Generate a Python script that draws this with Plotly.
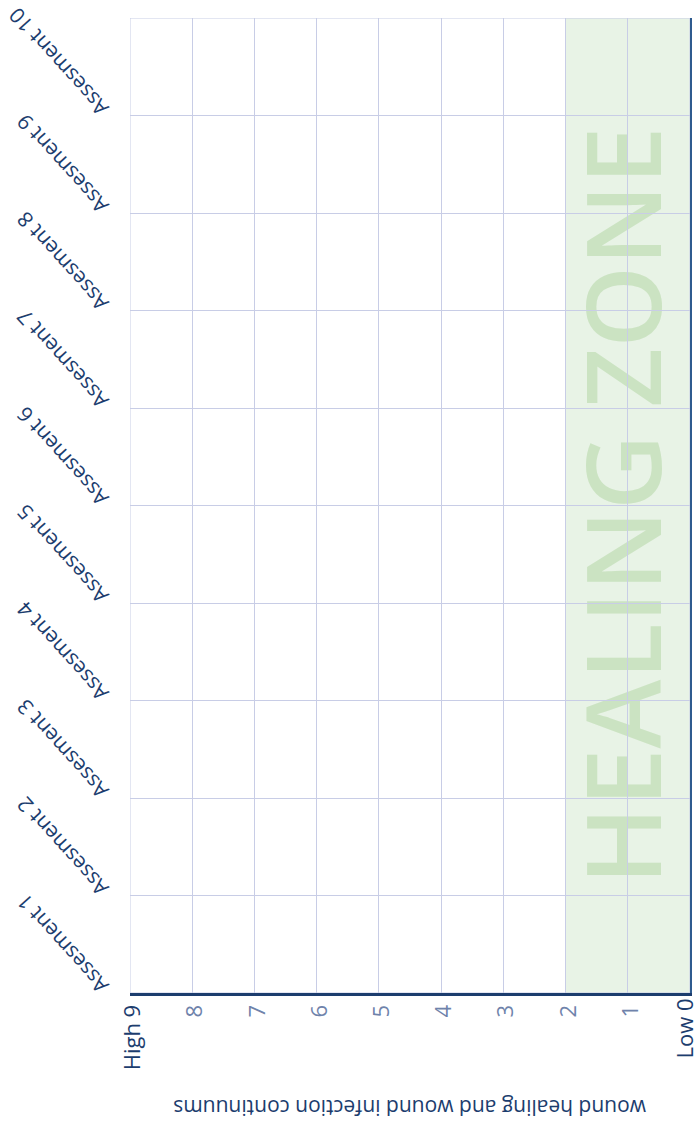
import plotly.graph_objects as go

# ---- data ----
values = [0, 1, 2, 3, 4, 5, 6, 7, 8, 9]
value_labels = ["Low 0", "1", "2", "3", "4", "5", "6", "7", "8", "High 9"]
assessment_positions = [0, 1, 2, 3, 4, 5, 6, 7, 8, 9, 10]
assessment_labels = ["Assesment 1", "Assesment 2", "Assesment 3", "Assesment 4",
                     "Assesment 5", "Assesment 6", "Assesment 7", "Assesment 8",
                     "Assesment 9", "Assesment 10", ""]
healing_zone = [0, 2]
value_range = [9, 0]
assessment_range = [0, 10]
zone_label = "HEALING ZONE"
axis_title = "wound healing and wound infection continuums"

NAVY = "#1c3d6e"
LIGHT = "#6f83ab"
GRID = "#c8cde6"
ZONE_FILL = "#e8f3e6"
ZONE_TEXT = "#cbe3c2"
EDGE = "#2f5b8f"
FONT = "Open Sans"


def styled(t):
    return f'<span style="color:{NAVY}">{t}</span>' if (t.startswith("High") or t.startswith("Low")) else t


# the end label at value 0 sits on the right edge; it is drawn on an overlaid axis so it can be nudged inward
edge_value = value_range[1]
main_ticktext = ["" if v == edge_value else styled(t) for v, t in zip(values, value_labels)]
edge_ticktext = [styled(t) for v, t in zip(values, value_labels) if v == edge_value]

fig = go.Figure()
fig.add_trace(go.Scatter(x=[], y=[], mode="markers", showlegend=False, hoverinfo="skip"))
fig.add_trace(go.Scatter(x=[], y=[], yaxis="y2", mode="markers", showlegend=False, hoverinfo="skip"))
fig.add_trace(go.Scatter(x=[], y=[], xaxis="x2", mode="markers", showlegend=False, hoverinfo="skip"))

W, H = 696, 1133
tickfont_x = dict(size=22, color=LIGHT, family=FONT)
fig.update_layout(
    width=W, height=H,
    margin=dict(l=130, r=6, t=18, b=140, autoexpand=False),
    paper_bgcolor="white", plot_bgcolor="white",
    showlegend=False,
    font=dict(family=FONT, color=NAVY),
    xaxis=dict(
        range=value_range, tickvals=values, ticktext=main_ticktext, tickangle=-90,
        showgrid=True, gridcolor=GRID, gridwidth=1, zeroline=False,
        showline=True, linecolor=NAVY, linewidth=3, ticks="",
        ticklabeloverflow="allow", ticklabelshift=-3,
        tickfont=tickfont_x, automargin=False,
    ),
    xaxis2=dict(
        range=value_range, overlaying="x", anchor="y", side="bottom",
        tickvals=[edge_value], ticktext=edge_ticktext, tickangle=-90,
        showgrid=False, zeroline=False, showline=False, ticks="",
        ticklabeloverflow="allow", ticklabelshift=4,
        tickfont=tickfont_x, automargin=False,
    ),
    yaxis=dict(
        range=assessment_range, tickvals=assessment_positions, ticktext=assessment_labels,
        tickangle=-132, ticklabelposition="inside", ticklabeloverflow="allow",
        ticklabelstandoff=-42, ticklabelshift=2,
        showgrid=True, gridcolor=GRID, gridwidth=1, zeroline=False, showline=False,
        ticks="", tickfont=dict(size=21, color=NAVY, family=FONT), automargin=False,
    ),
    yaxis2=dict(
        range=assessment_range, overlaying="y", side="right", anchor="x",
        showline=True, linecolor=EDGE, linewidth=2, showgrid=False, zeroline=False,
        showticklabels=False, ticks="", automargin=False,
    ),
    shapes=[
        dict(type="rect", xref="x", yref="y", x0=healing_zone[0], x1=healing_zone[1],
             y0=assessment_range[0], y1=assessment_range[1], fillcolor=ZONE_FILL,
             line=dict(width=0), layer="below",
             label=dict(text=zone_label, textangle=-90, textposition="middle center",
                        font=dict(size=104, color=ZONE_TEXT, family=FONT, weight=600))),
        dict(type="rect", xref="x", yref="y", x0=value_range[0], x1=value_range[1],
             y0=assessment_range[0], y1=assessment_range[1],
             line=dict(color=GRID, width=1), fillcolor="rgba(0,0,0,0)", layer="between"),
    ],
    annotations=[
        dict(text=axis_title, xref="paper", yref="paper", x=0.5, y=-0.118,
             textangle=180, showarrow=False, xanchor="center", yanchor="middle",
             font=dict(size=21, color=NAVY, family=FONT)),
    ],
)

# remove the default 8px page margin so the figure fills the 696x1133 window exactly
fig.write_html(
    "out.html",
    config={"displayModeBar": False},
    default_width=f"{W}px", default_height=f"{H}px",
    post_script="document.body.style.margin='0';document.body.style.overflow='hidden';",
)
